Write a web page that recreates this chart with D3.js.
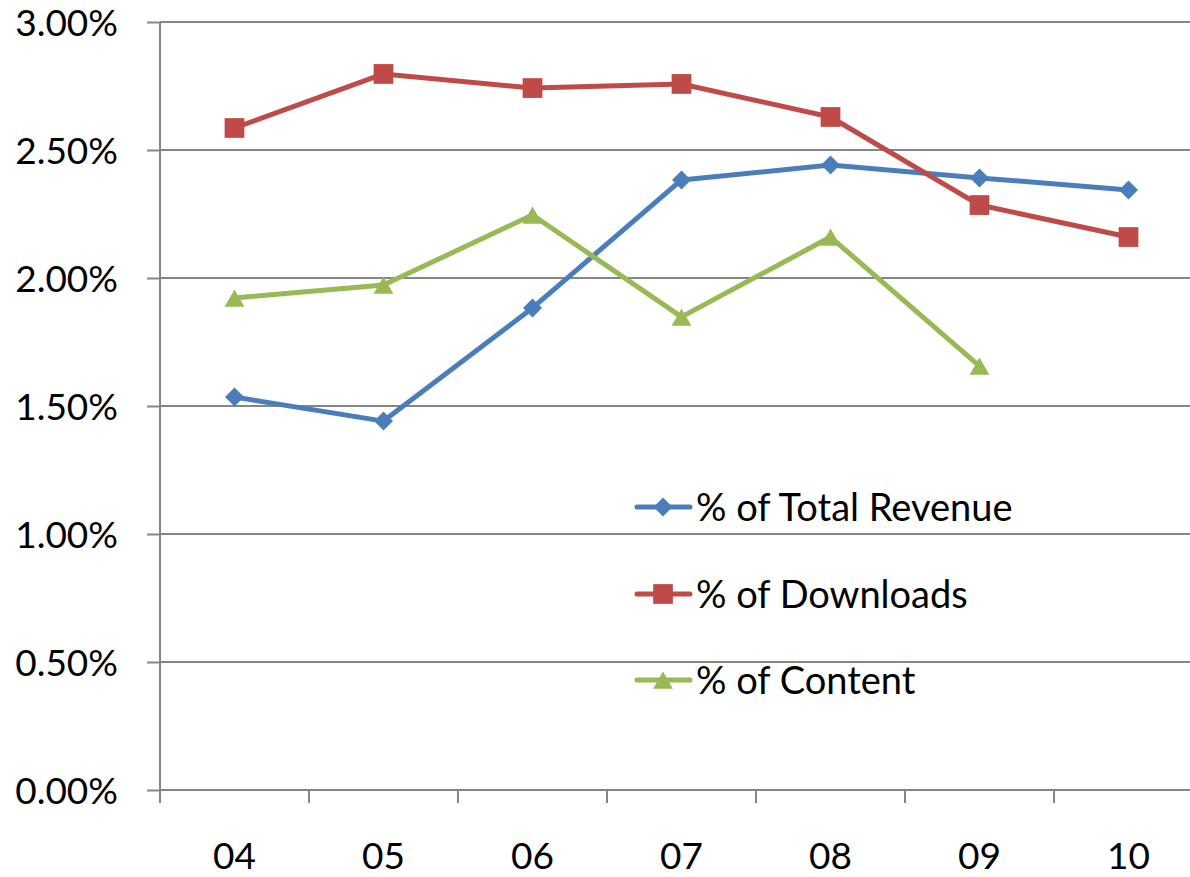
<!DOCTYPE html>
<html>
<head>
    <meta charset="UTF-8">
    <title>share chart</title>
    <script src="https://d3js.org/d3.v7.min.js"></script>
    <style>
        body { margin: 0; background: #fff; }
        text { font-family: Lato, "Open Sans", sans-serif; font-size: 37px; fill: #000; }
        .legend text { font-size: 38px; }
        .grid line, .axis line, .axis path { stroke: #868686; stroke-width: 2px; }
    </style>
</head>
<body>
<svg id="chart"></svg>
<script>
    var years = ["04", "05", "06", "07", "08", "09", "10"];
    var yTicks = [0, 0.005, 0.01, 0.015, 0.02, 0.025, 0.03];
    var revenue = [0.01535, 0.01441, 0.01883, 0.02383, 0.02441, 0.02391, 0.02344];
    var downloads = [0.02586, 0.02797, 0.02742, 0.02758, 0.02629, 0.02285, 0.02160];
    var content = [0.01922, 0.01973, 0.02246, 0.01848, 0.02160, 0.01656, null];
    var seriesNames = ["% of Total Revenue", "% of Downloads", "% of Content"];
    var colors = ["#4a7ebb", "#be4b48", "#98b954"];

    var W = 1190, H = 877,
        plotL = 160, plotR = 1203, plotT = 22, plotB = 790;

    var svg = d3.select("#chart").attr("width", W).attr("height", H);

    var x = d3.scaleBand().domain(years).range([plotL, plotR]).padding(0);
    var y = d3.scaleLinear().domain([0, 0.03]).range([plotB, plotT]);

    // horizontal gridlines
    svg.append("g").attr("class", "grid")
        .selectAll("line").data(yTicks.slice(1)).enter().append("line")
        .attr("x1", plotL).attr("x2", plotR)
        .attr("y1", function (d) { return y(d); })
        .attr("y2", function (d) { return y(d); });

    var yAxis = d3.axisLeft(y).tickValues(yTicks).tickSize(13).tickPadding(29)
        .tickFormat(d3.format(".2%"));
    var gy = svg.append("g").attr("class", "axis")
        .attr("transform", "translate(" + plotL + ",0)").call(yAxis);
    gy.selectAll("text").attr("dy", "0.36em");
    gy.select(".domain").remove();
    svg.append("line")
        .attr("x1", plotL).attr("x2", plotL).attr("y1", plotT).attr("y2", plotB)
        .attr("stroke", "#868686").attr("stroke-width", 2);

    // x axis: baseline + tick marks at category boundaries
    var gx = svg.append("g").attr("class", "axis");
    gx.append("line").attr("x1", plotL).attr("x2", plotR)
        .attr("y1", plotB).attr("y2", plotB);
    gx.selectAll("line.tk").data(d3.range(years.length + 1)).enter().append("line")
        .attr("class", "tk")
        .attr("x1", function (i) { return plotL + i * x.bandwidth(); })
        .attr("x2", function (i) { return plotL + i * x.bandwidth(); })
        .attr("y1", plotB).attr("y2", plotB + 13);
    gx.selectAll("text").data(years).enter().append("text")
        .attr("x", function (d) { return x(d) + x.bandwidth() / 2; })
        .attr("y", 869)
        .attr("text-anchor", "middle")
        .text(function (d) { return d; });

    var symbols = [
        d3.symbol().type(d3.symbolSquare).size(180),
        d3.symbol().type(d3.symbolSquare).size(390),
        d3.symbol().type(d3.symbolTriangle).size(170)
    ];
    var rot = ["rotate(45)", "", ""];
    var shift = [0, 0, 3];

    var allSeries = [revenue, downloads, content];
    var line = d3.line()
        .defined(function (d) { return d.v != null; })
        .x(function (d) { return x(d.k) + x.bandwidth() / 2; })
        .y(function (d) { return y(d.v); });

    allSeries.forEach(function (vals, si) {
        var pts = years.map(function (k, i) { return {k: k, v: vals[i]}; });
        var g = svg.append("g");
        g.append("path").datum(pts)
            .attr("fill", "none").attr("stroke", colors[si])
            .attr("stroke-width", 5).attr("stroke-linejoin", "round")
            .attr("d", line);
        g.selectAll("path.m").data(pts.filter(function (p) { return p.v != null; }))
            .enter().append("path").attr("class", "m")
            .attr("fill", colors[si])
            .attr("transform", function (p) {
                return "translate(" + (x(p.k) + x.bandwidth() / 2) + "," + (y(p.v) + shift[si]) + ")" + rot[si];
            })
            .attr("d", symbols[si]());
    });

    // legend
    var legY = [507, 594, 680];
    var leg = svg.append("g").attr("class", "legend")
        .selectAll("g").data(seriesNames).enter().append("g")
        .attr("transform", function (d, i) { return "translate(0," + legY[i] + ")"; });
    leg.append("line").attr("x1", 637).attr("x2", 690).attr("y1", 0).attr("y2", 0)
        .attr("stroke", function (d, i) { return colors[i]; })
        .attr("stroke-width", 5).attr("stroke-linecap", "round");
    leg.append("path")
        .attr("fill", function (d, i) { return colors[i]; })
        .attr("transform", function (d, i) { return "translate(663," + shift[i] + ")" + rot[i]; })
        .attr("d", function (d, i) { return symbols[i](); });
    leg.append("text").attr("x", 696).attr("dy", "0.36em")
        .text(function (d) { return d; });
</script>
</body>
</html>
